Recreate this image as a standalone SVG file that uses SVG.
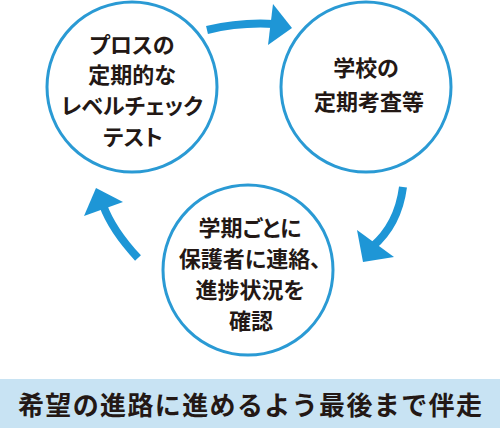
<svg xmlns="http://www.w3.org/2000/svg" width="500" height="428" viewBox="0 0 500 428">
<style>
.c{fill:#fff;stroke:#2a9ad4;stroke-width:3}
.t{font-family:"Noto Sans CJK JP","Noto Sans",sans-serif;font-weight:700;font-size:22px;fill:#231815;text-anchor:middle;font-feature-settings:"palt" 1}
.f{font-family:"Noto Sans CJK JP","Noto Sans",sans-serif;font-weight:700;font-size:26px;fill:#231815;text-anchor:middle}
.s{fill:none;stroke:#1e96d6;stroke-width:8}
.h{fill:#1e96d6}
</style>
<rect width="500" height="428" fill="#fff"/>
<g id="connectors">
<path class="s" d="M207,30 Q240,22 274,24"/>
<polygon class="h" points="273,4 292,28 268,45"/>
<path class="s" d="M403,187 Q398,225 372,247"/>
<polygon class="h" points="357,230 363,262 394,257"/>
<path class="s" d="M138,258 Q112,230 103,205"/>
<polygon class="h" points="96,188 84,216 123,202"/>
</g>
<g id="node1">
<circle class="c" cx="132" cy="87" r="85"/>
<text class="t" x="132" y="53">プロスの</text>
<text class="t" x="132" y="83">定期的な</text>
<text class="t" x="132" y="114">レベルチェック</text>
<text class="t" x="133" y="145">テスト</text>
</g>
<g id="node2">
<circle class="c" cx="366" cy="87" r="85"/>
<text class="t" x="366" y="76">学校の</text>
<text class="t" x="369" y="110">定期考査等</text>
</g>
<g id="node3">
<circle class="c" cx="248" cy="270" r="85"/>
<text class="t" x="250" y="236">学期ごとに</text>
<text class="t" x="250" y="267">保護者に連絡、</text>
<text class="t" x="250" y="298">進捗状況を</text>
<text class="t" x="251" y="329">確認</text>
</g>
<g id="footer">
<rect x="0" y="379" width="500" height="49" fill="#c8e3f3"/>
<text class="f" x="250" y="415" textLength="464" lengthAdjust="spacing">希望の進路に進めるよう最後まで伴走</text>
</g>
</svg>
